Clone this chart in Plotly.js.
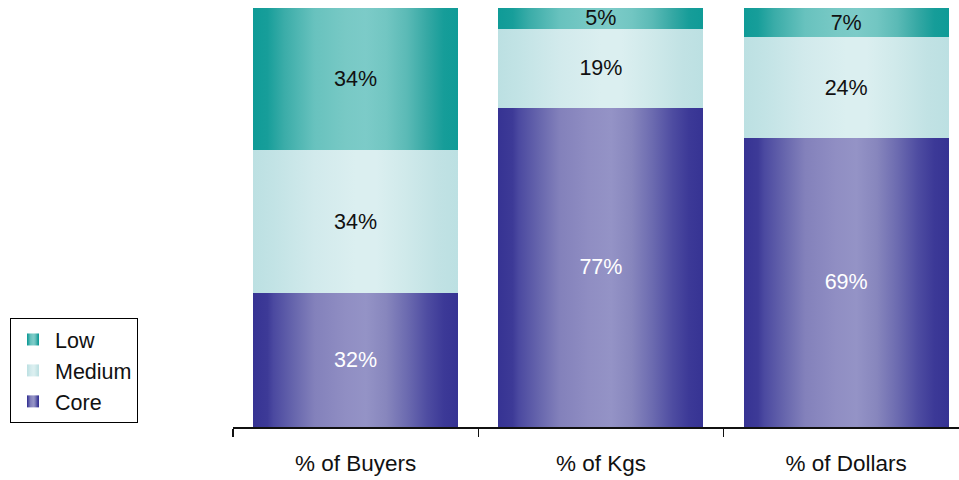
<!DOCTYPE html>
<html>
<head>
<meta charset="utf-8">
<script src="https://cdn.plot.ly/plotly-3.0.1.min.js"></script>
<style>
  html, body { margin: 0; padding: 0; background: #ffffff; }
  #chart { width: 959px; height: 480px; }
</style>
</head>
<body>
<div id="chart"></div>
<script>
// ---- data ----
const categories = ["% of Buyers", "% of Kgs", "% of Dollars"];
const seriesNames = ["Core", "Medium", "Low"];
const coreValues = [32, 77, 69];
const mediumValues = [34, 19, 24];
const lowValues = [34, 5, 7];

// ---- styling ----
const FONT = "Liberation Sans, Arial, sans-serif";
const baseColors = { Core: "#5553a6", Medium: "#cbe7e9", Low: "#43b1ad" };
const textColors = { Core: "#ffffff", Medium: "#111111", Low: "#111111" };
const gradients = {
  Core: [[0, "#363393"], [0.07, "#3d3a97"], [0.1, "#4b49a0"], [0.2, "#6766ad"], [0.3, "#8381bb"], [0.45, "#908ec3"], [0.55, "#9493c6"], [0.65, "#8786bd"], [0.75, "#6c6bb0"], [0.85, "#4e4ca1"], [0.93, "#3c3997"], [1, "#363393"]],
  Medium: [[0, "#bce0e2"], [0.1, "#c2e3e5"], [0.3, "#d2eaec"], [0.5, "#dbeff0"], [0.6, "#dbeff0"], [0.75, "#cfe9ea"], [0.9, "#c1e2e4"], [1, "#bce0e2"]],
  Low: [[0, "#0f9b97"], [0.07, "#179e9a"], [0.15, "#3aaca8"], [0.3, "#68c2be"], [0.45, "#78c9c5"], [0.55, "#7ccbc8"], [0.65, "#72c6c2"], [0.75, "#5bbab6"], [0.85, "#35a8a4"], [0.93, "#169d99"], [1, "#0f9b97"]]
};

const valueSets = { Core: coreValues, Medium: mediumValues, Low: lowValues };

const traces = seriesNames.map(name => ({
  type: "bar",
  name: name,
  x: categories,
  y: valueSets[name],
  text: valueSets[name].map(v => v + "%"),
  textposition: "inside",
  insidetextanchor: "middle",
  textangle: 0,
  constraintext: "none",
  insidetextfont: { family: FONT, size: 21.5, color: textColors[name] },
  marker: { color: baseColors[name], line: { width: 0 } },
  width: 0.836,
  hoverinfo: "none"
}));

const layout = {
  width: 959,
  height: 480,
  paper_bgcolor: "#ffffff",
  plot_bgcolor: "#ffffff",
  margin: { l: 233, r: 0, t: 8, b: 53, pad: 0 },
  barmode: "stack",
  barnorm: "percent",
  showlegend: true,
  legend: {
    xref: "container", yref: "container",
    x: 10 / 959, y: 1 - 318 / 480,
    xanchor: "left", yanchor: "top",
    traceorder: "reversed",
    bgcolor: "#ffffff",
    bordercolor: "#000000",
    borderwidth: 1,
    font: { family: FONT, size: 21.5, color: "#111111" },
    itemwidth: 34,
    entrywidthmode: "pixels",
    entrywidth: 110,
    tracegroupgap: 0
  },
  xaxis: {
    type: "category",
    range: [-0.5, 2.46],
    showgrid: false,
    zeroline: false,
    showline: true,
    linecolor: "#111111",
    linewidth: 1.5,
    ticks: "outside",
    tickson: "boundaries",
    ticklen: 8,
    tickwidth: 1.5,
    tickcolor: "#111111",
    ticklabelstandoff: 15,
    tickfont: { family: FONT, size: 22.5, color: "#111111" }
  },
  yaxis: {
    range: [0, 100],
    visible: false,
    showgrid: false,
    zeroline: false
  }
};

const gd = document.getElementById("chart");
Plotly.newPlot(gd, traces, layout, { staticPlot: true, displayModeBar: false }).then(() => {
  const svgNS = "http://www.w3.org/2000/svg";
  const svg = gd.querySelector("svg.main-svg");
  let defs = svg.querySelector("defs");
  if (!defs) { defs = document.createElementNS(svgNS, "defs"); svg.insertBefore(defs, svg.firstChild); }
  Object.keys(gradients).forEach(name => {
    const lg = document.createElementNS(svgNS, "linearGradient");
    lg.setAttribute("id", "grad-" + name);
    lg.setAttribute("x1", "0"); lg.setAttribute("y1", "0");
    lg.setAttribute("x2", "1"); lg.setAttribute("y2", "0");
    gradients[name].forEach(([off, col]) => {
      const st = document.createElementNS(svgNS, "stop");
      st.setAttribute("offset", off);
      st.setAttribute("stop-color", col);
      lg.appendChild(st);
    });
    defs.appendChild(lg);
  });
  gd.querySelectorAll(".barlayer .trace").forEach(g => {
    const d = g.__data__;
    const name = d && d[0] && d[0].trace ? d[0].trace.name : null;
    if (!name || !gradients[name]) return;
    g.querySelectorAll("path").forEach(p => { p.style.fill = "url(#grad-" + name + ")"; });
  });
  gd.querySelectorAll(".legend .traces").forEach(g => {
    const name = (g.textContent || "").trim();
    if (!gradients[name]) return;
    g.querySelectorAll(".legendpoints path").forEach(p => { p.style.fill = "url(#grad-" + name + ")"; });
  });
});
</script>
</body>
</html>
